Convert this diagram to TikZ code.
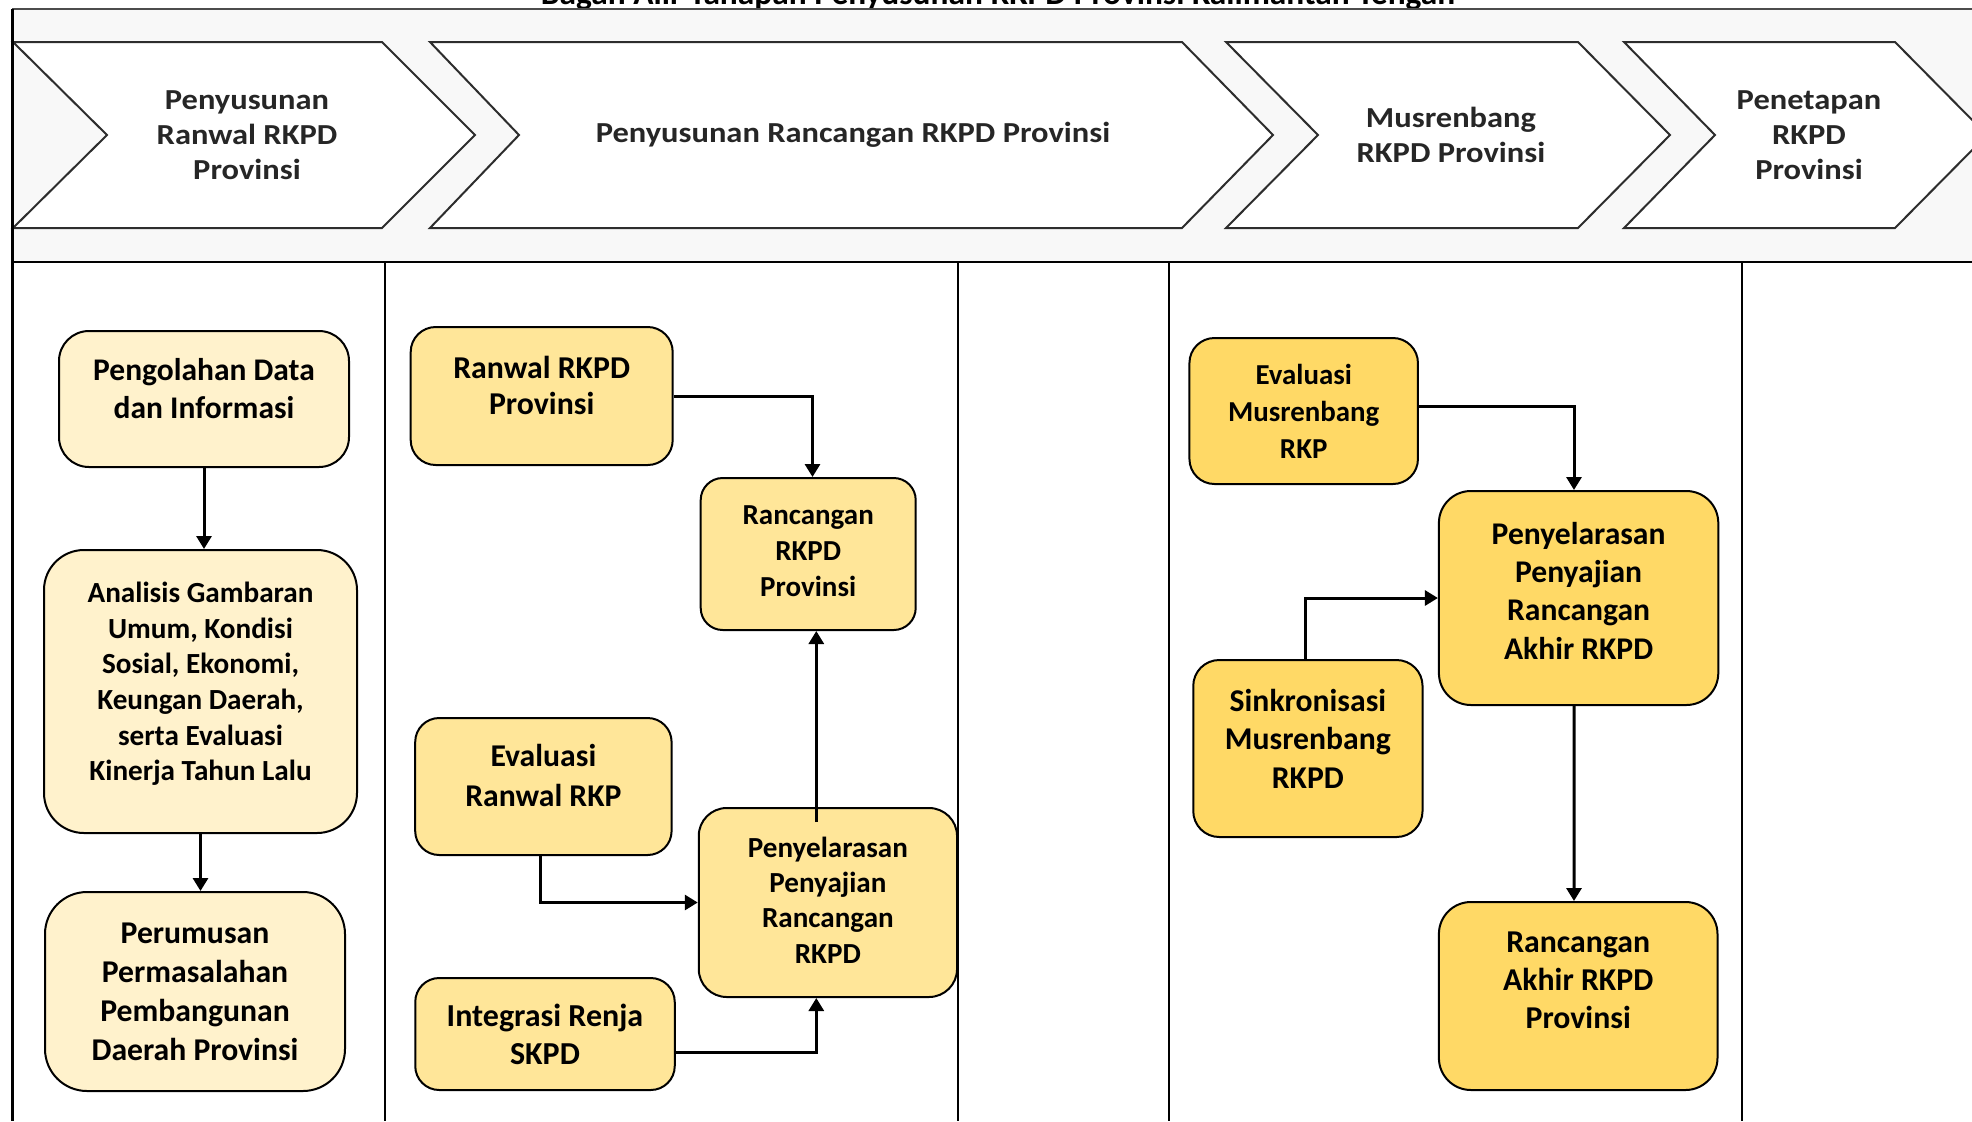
\documentclass[tikz,border=0pt]{standalone}
\usepackage{fontspec}
\usepackage{graphicx}
\setmainfont{Carlito}
\newfontfamily\hdrfont[FakeStretch=1.12]{Carlito}
\usetikzlibrary{arrows.meta,calc}
\definecolor{cA}{RGB}{255,242,204}
\definecolor{cB}{RGB}{255,230,153}
\definecolor{cC}{RGB}{255,217,102}
\definecolor{bandc}{RGB}{248,248,248}
\definecolor{chevline}{RGB}{45,45,45}
\begin{document}
\begin{tikzpicture}[x=0.5pt,y=-0.5pt,
  box/.style={draw=black,line width=1pt,inner sep=0pt},
  lbl/.style={align=center,text=black,inner sep=0pt},
  arr/.style={line width=1.5pt,-{Triangle[width=7.5pt,length=6.5pt]}},
  lane/.style={line width=1pt,draw=black},
  chev/.style={draw=chevline,line width=1pt,fill=white},
  htxt/.style={align=center,font=\hdrfont\bfseries\fontsize{14.5}{17.5}\selectfont,text=black!85}]
\useasboundingbox (0,0) rectangle (1972,1121);
\clip (0,0) rectangle (1972,1121);

% title (cut off at top)
\node[anchor=base,inner sep=0pt] (title) at (998,4) {\resizebox{457pt}{!}{\bfseries Bagan Alir Tahapan Penyusunan RKPD Provinsi Kalimantan Tengah}};

% header band
\fill[bandc] (12,9) rectangle (1990,262);
\draw[line width=1pt,draw=black!70] (12,9) -- (1990,9);
\draw[lane] (12,262) -- (1990,262);

% chevrons
\draw[chev] (13,42) -- (382,42) -- (475,135) -- (382,228) -- (13,228) -- (107,135) -- cycle;
\draw[chev] (430,42) -- (1182,42) -- (1273,135) -- (1182,228) -- (430,228) -- (519,135) -- cycle;
\draw[chev] (1226,42) -- (1578,42) -- (1670,135) -- (1578,228) -- (1226,228) -- (1318,135) -- cycle;
\draw[chev] (1624,42) -- (1895,42) -- (1987,135) -- (1895,228) -- (1624,228) -- (1715,135) -- cycle;
\node[htxt] (h1) at (247,135) {Penyusunan\\Ranwal RKPD\\Provinsi};
\node[htxt] (h2) at (853,135) {Penyusunan Rancangan RKPD Provinsi};
\node[htxt] (h3) at (1451,135) {Musrenbang\\RKPD Provinsi};
\node[htxt] (h4) at (1809,135) {Penetapan\\RKPD\\Provinsi};

% lanes
\draw[line width=1.5pt] (12,9) -- (12,1121);
\draw[lane] (385,262) -- (385,1121);
\draw[lane] (958,262) -- (958,1121);
\draw[lane] (1169,262) -- (1169,1121);
\draw[lane] (1742,262) -- (1742,1121);

% lane 1
\node[box,fill=cA,rounded corners=15pt,minimum width=145pt,minimum height=68pt,
  label={[lbl,font=\bfseries\fontsize{15.75}{19}\selectfont,yshift=5pt]center:{Pengolahan Data\\dan Informasi}}] (n1) at (204,399) {};
\node[box,fill=cA,rounded corners=20pt,minimum width=156.5pt,minimum height=141.5pt,
  label={[lbl,font=\bfseries\fontsize{14.6}{17.8}\selectfont,yshift=3.75pt]center:{Analisis Gambaran\\Umum, Kondisi\\Sosial, Ekonomi,\\Keungan Daerah,\\serta Evaluasi\\Kinerja Tahun Lalu}}] (n2) at (200.5,691.5) {};
\node[box,fill=cA,rounded corners=21pt,minimum width=150pt,minimum height=99.5pt,
  label={[lbl,font=\bfseries\fontsize{15.85}{19.5}\selectfont]center:{Perumusan\\Permasalahan\\Pembangunan\\Daerah Provinsi}}] (n3) at (195,991.5) {};

% lane 2
\node[box,fill=cB,rounded corners=12.5pt,minimum width=131pt,minimum height=69pt,
  label={[lbl,font=\bfseries\fontsize{15.9}{18}\selectfont,yshift=5.5pt]center:{Ranwal RKPD\\Provinsi}}] (ranwal) at (541.7,396) {};
\node[box,fill=cB,rounded corners=11pt,minimum width=107.5pt,minimum height=76pt,
  label={[lbl,font=\bfseries\fontsize{14.5}{18}\selectfont,yshift=1.5pt]center:{Rancangan\\RKPD\\Provinsi}}] (ranc) at (808.2,554) {};
\node[box,fill=cB,rounded corners=12pt,minimum width=128.2pt,minimum height=68.5pt,
  label={[lbl,font=\bfseries\fontsize{15.85}{20}\selectfont,yshift=5.75pt]center:{Evaluasi\\Ranwal RKP}}] (evr) at (543.4,786.5) {};
\node[box,fill=cB,rounded corners=14pt,minimum width=129.15pt,minimum height=94.5pt,
  label={[lbl,font=\bfseries\fontsize{14.55}{17.7}\selectfont,yshift=1.25pt]center:{Penyelarasan\\Penyajian\\Rancangan\\RKPD}}] (pen) at (827.9,902.5) {};
\node[box,fill=cB,rounded corners=12pt,minimum width=129.75pt,minimum height=56pt,
  label={[lbl,font=\bfseries\fontsize{16}{19}\selectfont]center:{Integrasi Renja\\SKPD}}] (integ) at (545,1034) {};

% lane 4
\node[box,fill=cC,rounded corners=12.5pt,minimum width=114.25pt,minimum height=73pt,
  label={[lbl,font=\bfseries\fontsize{14.45}{18.5}\selectfont]center:{Evaluasi\\Musrenbang\\RKP}}] (evm) at (1303.7,411) {};
\node[box,fill=cC,rounded corners=16pt,minimum width=139.7pt,minimum height=107pt,
  label={[lbl,font=\bfseries\fontsize{15.8}{19.2}\selectfont,yshift=3.75pt]center:{Penyelarasan\\Penyajian\\Rancangan\\Akhir RKPD}}] (pena) at (1578.6,598) {};
\node[box,fill=cC,rounded corners=13pt,minimum width=114.65pt,minimum height=88.5pt,
  label={[lbl,font=\bfseries\fontsize{15.85}{19.25}\selectfont,yshift=5pt]center:{Sinkronisasi\\Musrenbang\\RKPD}}] (sink) at (1307.9,748.5) {};
\node[box,fill=cC,rounded corners=16pt,minimum width=139.3pt,minimum height=94pt,
  label={[lbl,font=\bfseries\fontsize{15.9}{19}\selectfont,yshift=8pt]center:{Rancangan\\Akhir RKPD\\Provinsi}}] (ranca) at (1578.2,996) {};

% connectors
\draw[arr] (n1.south) -- (n1.south |- n2.north);
\draw[arr] (n2.south) -- (n2.south |- n3.north);
\draw[arr] (ranwal.east) -| ([xshift=2.15pt]ranc.north);
\draw[arr] ([xshift=-5.8pt,yshift=-7.5pt]pen.north) -- ([xshift=4.05pt]ranc.south);
\draw[arr] ([xshift=-1.7pt]evr.south) |- (pen.west);
\draw[arr] ([yshift=-9pt]integ.east) -| ([xshift=-5.8pt]pen.south);
\draw[arr] ([yshift=2.5pt]evm.east) -| ([xshift=-2.3pt]pena.north);
\draw[arr] ([xshift=-1.45pt]sink.north) |- (pena.west);
\draw[arr] ([xshift=-2.3pt]pena.south) -- ([xshift=-2.1pt]ranca.north);
\end{tikzpicture}
\end{document}
